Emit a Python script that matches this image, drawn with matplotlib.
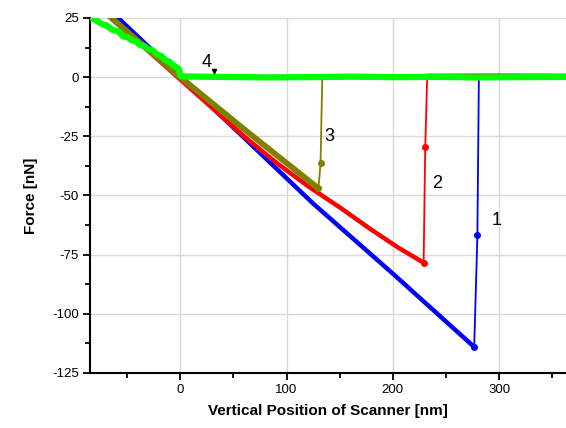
import matplotlib
matplotlib.use("Agg")
import matplotlib.pyplot as plt
from matplotlib.ticker import MultipleLocator

plt.rcParams["font.family"] = ["Liberation Sans", "DejaVu Sans"]
plt.rcParams["axes.unicode_minus"] = False

# curve 1 (blue)
c1_x = [-62, -30, 0, 60, 125, 200, 276.6]
c1_y = [26.5, 12.9, 0, -25.6, -53.4, -83.0, -114.0]
c1_jump_x = [276.6, 279.6, 281.0]
c1_jump_y = [-114.0, -66.9, 0.0]
c1_flat_x = [281.0, 365]
c1_flat_y = [0.0, 0.0]

# curve 2 (red)
c2_x = [-68, -30, 0, 30, 60, 90, 120, 150, 180, 205, 229]
c2_y = [26.0, 11.0, -1.0, -13.0, -25.0, -36.0, -46.0, -55.0, -64.5,
        -72.0, -78.4]
c2_jump_x = [229, 230.5, 232.4]
c2_jump_y = [-78.4, -29.7, 0.5]
c2_flat_x = [232.4, 300, 365]
c2_flat_y = [0.6, 0.7, 0.6]

# curve 3 (olive)
c3_x = [-66, -30, 0, 60, 130]
c3_y = [25.5, 11.5, 0, -22.0, -47.0]
c3_jump_x = [130, 132, 133.6]
c3_jump_y = [-47.0, -36.4, 0.0]
c3_flat_x = [133.6, 365]
c3_flat_y = [0.0, 0.0]

# curve 4 (green)
c4_x = [-88, -80, -74, -70, -64, -58, -54, -50, -46, -42, -38, -34, -30,
        -26, -22, -18, -14, -10, -6, -3, -1, 0, 2, 40, 80, 120, 160,
        200, 240, 280, 320, 365]
c4_y = [26.5, 24.2, 22.5, 22.0, 20.0, 19.3, 17.2, 17.0, 15.6, 15.2, 13.6,
        13.2, 11.8, 11.4, 9.6, 9.0, 7.2, 6.4, 4.8, 4.0, 3.2, 0.5, 0.3,
        0.1, -0.1, 0.0, 0.2, 0.0, 0.1, -0.1, 0.0, 0.1]

BLUE = "#0000FF"
RED = "#FF0000"
OLIVE = "#808000"
GREEN = "#00FF00"

fig = plt.figure(figsize=(5.66, 4.28), dpi=100)
ax = fig.add_axes([90 / 566, 55 / 428, 1 - 90 / 566, (373 - 18) / 428])

ax.plot(c1_flat_x, c1_flat_y, color=BLUE, lw=1.5, zorder=2)
ax.plot(c3_flat_x, c3_flat_y, color=OLIVE, lw=2, zorder=2)
ax.plot(c2_flat_x, c2_flat_y, color=RED, lw=3, zorder=2)
ax.plot(c1_x, c1_y, color=BLUE, lw=3.2, zorder=3, solid_capstyle="round")
ax.plot(c2_x, c2_y, color=RED, lw=3.2, zorder=4, solid_capstyle="round")
ax.plot(c3_x, c3_y, color=OLIVE, lw=4.2, zorder=5, solid_capstyle="round")
ax.plot(c1_jump_x, c1_jump_y, color=BLUE, lw=1.3, marker="o", ms=4,
        markevery=[0, 1], zorder=3)
ax.plot(c2_jump_x, c2_jump_y, color=RED, lw=1.3, marker="o", ms=4,
        markevery=[0, 1], zorder=4)
ax.plot(c3_jump_x, c3_jump_y, color=OLIVE, lw=1.3, marker="o", ms=4,
        markevery=[0, 1], zorder=5)
ax.plot(c4_x, c4_y, color=GREEN, lw=4.5, zorder=6, solid_capstyle="round")

ax.text(298, -60.6, "1", fontsize=13, ha="center", va="center")
ax.text(242, -45, "2", fontsize=13, ha="center", va="center")
ax.text(140, -25, "3", fontsize=13, ha="center", va="center")
ax.text(25, 6.4, "4", fontsize=13, ha="center", va="center")
ax.plot([32], [2.6], marker="v", color="black", ms=3, zorder=7)

ax.set_xlim(-85, 363)
ax.set_ylim(-125, 25)
ax.xaxis.set_major_locator(MultipleLocator(100))
ax.xaxis.set_minor_locator(MultipleLocator(50))
ax.yaxis.set_major_locator(MultipleLocator(25))
ax.yaxis.set_minor_locator(MultipleLocator(12.5))
ax.grid(which="major", color="#d9d9d9", lw=1)
ax.set_axisbelow(True)
ax.spines[["top", "right"]].set_visible(False)
for side in ("left", "bottom"):
    ax.spines[side].set_linewidth(1.5)
ax.tick_params(which="major", direction="out", length=5, width=1.3,
               labelsize=9.5, pad=3)
ax.tick_params(which="minor", direction="out", length=3.5, width=1.3)

ax.set_xlabel("Vertical Position of Scanner [nm]", fontsize=11,
              fontweight="bold", labelpad=6)
ax.set_ylabel("Force [nN]", fontsize=11, fontweight="bold", labelpad=10)

fig.savefig("out.png", dpi=100)
